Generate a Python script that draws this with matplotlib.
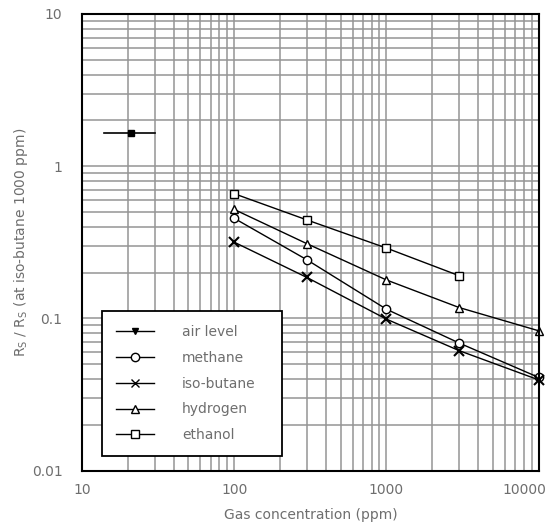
import matplotlib
matplotlib.use("Agg")
import matplotlib.pyplot as plt
from matplotlib.lines import Line2D
from matplotlib.ticker import LogLocator, NullFormatter
from matplotlib.transforms import ScaledTranslation

# gas concentration (ppm) and Rs/Ro readings, picked off the sensor curve
conc = [100, 300, 1000, 3000, 10000]
methane = [0.455, 0.243, 0.115, 0.069, 0.041]
isobutane = [0.317, 0.186, 0.099, 0.0615, 0.0395]
hydrogen = [0.52, 0.31, 0.179, 0.118, 0.083]
ethanol_conc = [100, 300, 1000, 3000]
ethanol = [0.66, 0.444, 0.29, 0.191]

# air level: a single reading with its range
air_range = [14, 30]
air_conc = 21
air_value = 1.65

xticks = [10, 100, 1000, 10000]
xticklabels = ["10", "100", "1000", "10000"]
yticks = [0.01, 0.1, 1, 10]
yticklabels = ["0.01", "0.1", "1", "10"]

txt = "#6e6e6e"
plt.rcParams["font.family"] = "DejaVu Sans"

fig = plt.figure(figsize=(5.47, 5.24), dpi=100)
ax = fig.add_axes([0.1499, 0.1017, 0.8349, 0.8716])
ax.set_xscale("log")
ax.set_yscale("log")
ax.set_xlim(10, 10000)
ax.set_ylim(0.01, 10)

ax.xaxis.set_minor_locator(LogLocator(base=10, subs=range(2, 10)))
ax.yaxis.set_minor_locator(LogLocator(base=10, subs=range(2, 10)))
ax.xaxis.set_minor_formatter(NullFormatter())
ax.yaxis.set_minor_formatter(NullFormatter())
ax.grid(True, which="both", color="#959595", lw=1.1)
ax.set_axisbelow(True)
ax.tick_params(which="both", length=0)
ax.tick_params(axis="x", pad=9, labelsize=10, labelcolor=txt)
ax.tick_params(axis="y", pad=14, labelsize=10, labelcolor=txt)
ax.set_xticks(xticks, xticklabels)
ax.set_yticks(yticks, yticklabels)
for s in ax.spines.values():
    s.set_linewidth(1.5)
    s.set_color("black")

# last x label would run off the figure: pull it to the left like the original
last = ax.get_xticklabels()[-1]
last.set_horizontalalignment("right")
last.set_transform(last.get_transform() + ScaledTranslation(8 / 100, 0, fig.dpi_scale_trans))

lk = dict(color="black", lw=1.0, markerfacecolor="white", markeredgecolor="black",
          markeredgewidth=1.0, markersize=6, clip_on=False)
ax.plot(conc, methane, marker="o", **lk)
ax.plot(conc, isobutane, marker="x", **{**lk, "markersize": 7, "markeredgewidth": 1.5})
ax.plot(conc, hydrogen, marker="^", **lk)
ax.plot(ethanol_conc, ethanol, marker="s", **lk)

ax.plot(air_range, [air_value, air_value], color="black", lw=1.2)
ax.plot([air_conc], [air_value], marker="s", color="black", markersize=4)

handles = [
    Line2D([], [], color="black", lw=1.0, marker="v", markersize=4, markerfacecolor="black"),
    Line2D([], [], marker="o", **lk),
    Line2D([], [], marker="x", **lk),
    Line2D([], [], marker="^", **lk),
    Line2D([], [], marker="s", **lk),
]
labels = ["air level", "methane", "iso-butane", "hydrogen", "ethanol"]
leg = ax.legend(handles, labels, loc="lower left", bbox_to_anchor=(0.043, 0.032, 0.395, 0.318),
                mode="expand", borderaxespad=0, fancybox=False, framealpha=1,
                edgecolor="black", handlelength=2.8, handletextpad=2.0,
                labelspacing=0.85, borderpad=1.0, fontsize=10, labelcolor=txt)
leg.get_frame().set_linewidth(1.3)

ax.set_xlabel("Gas concentration (ppm)", color=txt, fontsize=10, labelpad=8)
ax.set_ylabel("R$_\\mathregular{S}$ / R$_\\mathregular{S}$ (at iso-butane 1000 ppm)",
              color=txt, fontsize=10, labelpad=1)

fig.savefig("out.png", dpi=100)
